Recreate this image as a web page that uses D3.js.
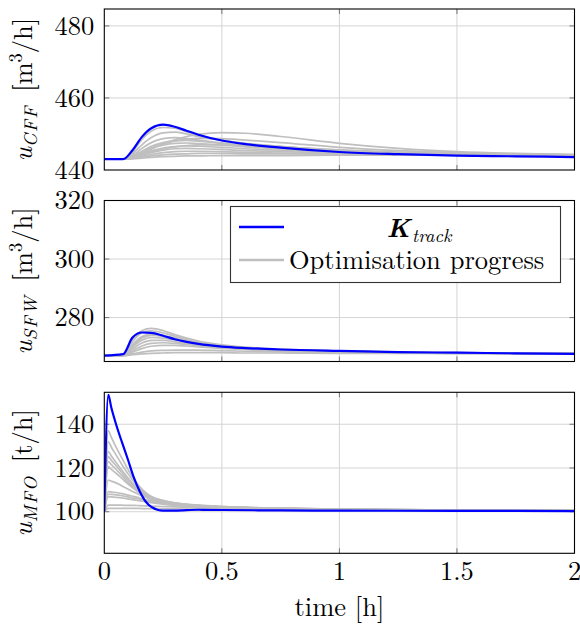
<!DOCTYPE html>
<html><head><meta charset="utf-8">
<script src="https://cdn.jsdelivr.net/npm/d3@7"></script>
<style>body{margin:0;background:#fff}svg{display:block}</style>
</head><body><svg id="c" width="580" height="628"></svg>
<script>
// ---------- DATA ----------
const timeA = [0, 0.08, 0.12, 0.16, 0.2, 0.25, 0.3, 0.35, 0.4, 0.5, 0.6, 0.75, 1.0, 1.25, 1.5, 1.75, 2.0];
const cffTrack = [443, 443, 445.5, 449.2, 451.6, 452.6, 452.0, 450.9, 449.8, 448.2, 447.2, 446.2, 445.0, 444.4, 444.0, 443.8, 443.6];
const cffProgress = [
 [443,443,443.5,444.5,445.8,447.2,448.4,449.3,449.9,450.4,450.2,449.3,447.4,446.0,445.1,444.6,444.3],
 [443,443,445,448.5,450.8,451.8,451.6,450.6,449.6,448.3,447.4,446.6,445.5,444.8,444.3,444.0,443.8],
 [443,443,444.5,447,449,450.3,450.5,450,449.3,448.2,447.3,446.5,445.4,444.7,444.3,444.0,443.8],
 [443,443,444,446,447.6,448.7,449,448.8,448.3,447.5,446.8,446.1,445.1,444.6,444.2,444.0,443.9],
 [443,443,443.8,445.2,446.6,447.6,448.1,448.2,448,447.4,446.8,446.2,445.3,444.7,444.3,444.1,443.9],
 [443,443,443.6,444.8,446,446.9,447.4,447.5,447.3,446.9,446.4,445.9,445.1,444.6,444.3,444.1,444.0],
 [443,443,443.5,444.4,445.3,446.1,446.5,446.7,446.6,446.3,445.9,445.5,444.9,444.5,444.3,444.1,444.0],
 [443,443,443.4,444.1,444.8,445.5,445.9,446,445.9,445.7,445.4,445.1,444.7,444.4,444.2,444.1,444.0],
 [443,443,443.3,443.8,444.3,444.8,445.1,445.2,445.2,445.1,444.9,444.7,444.5,444.3,444.2,444.1,444.1],
 [443,443,443.2,443.5,443.9,444.2,444.4,444.5,444.6,444.6,444.5,444.5,444.4,444.3,444.2,444.2,444.2],
 [443,443,443.1,443.3,443.5,443.7,443.8,443.9,443.9,444,444,444,444.1,444.1,444.1,444.1,444.1],
 [443,443,443.6,444.8,446.1,447.3,448.1,448.6,448.8,448.7,448.3,447.6,446.3,445.4,444.8,444.5,444.3],
 [443,443,443.4,444.2,445.0,445.8,446.4,446.8,447,447,446.8,446.4,445.6,445,444.6,444.4,444.2]
];
const sfwTrack = [267, 267.5, 273.2, 274.9, 274.8, 273.8, 272.6, 271.7, 271.0, 270.1, 269.6, 269.1, 268.6, 268.2, 268.0, 267.8, 267.6];
const sfwProgress = [
 [267,267.4,272.5,275.5,276.3,275.6,274.2,273,272,270.7,269.9,269.2,268.6,268.2,268,267.8,267.7],
 [267,267.3,271.8,274.8,275.5,274.8,273.6,272.5,271.6,270.4,269.7,269.1,268.5,268.2,268,267.8,267.7],
 [267,267.2,270.8,273.5,274.3,273.9,273,272.1,271.3,270.3,269.6,269,268.5,268.2,267.9,267.8,267.7],
 [267,267.2,270,272.3,273.2,273,272.4,271.7,271,270.1,269.5,269,268.5,268.2,267.9,267.8,267.7],
 [267,267.1,269.3,271.3,272.2,272.2,271.8,271.2,270.7,269.9,269.4,268.9,268.4,268.1,267.9,267.8,267.7],
 [267,267.1,268.7,270.3,271.2,271.4,271.2,270.8,270.4,269.7,269.2,268.8,268.4,268.1,267.9,267.8,267.7],
 [267,267.1,268.2,269.4,270.2,270.5,270.5,270.3,270,269.5,269.1,268.7,268.3,268.1,267.9,267.8,267.7],
 [267,267,267.6,268.2,268.6,268.8,268.9,268.9,268.9,268.7,268.5,268.3,268.1,267.9,267.8,267.7,267.7],
 [267,267,267.3,267.6,267.8,267.9,268,268,268,268,267.9,267.9,267.8,267.8,267.7,267.7,267.7],
 [267,267.2,270.4,273,273.9,273.6,272.8,271.9,271.2,270.2,269.5,269,268.5,268.2,267.9,267.8,267.7]
];
const timeB = [0, 0.017, 0.03, 0.05, 0.075, 0.1, 0.125, 0.15, 0.175, 0.2, 0.25, 0.3, 0.4, 0.5, 0.75, 1.0, 1.5, 2.0];
const mfoTrack = [100, 153.4, 147.5, 140, 131.8, 124, 115.8, 109.5, 104.8, 102.2, 100.5, 100.5, 100.9, 100.8, 100.6, 100.5, 100.4, 100.3];
const mfoProgress = [
 [100,137,134,129.5,124.5,119.5,115,111.5,108.8,107,105.2,104.1,103,102.4,101.6,101.2,100.8,100.6],
 [100,132,129.5,126,121.5,117.5,113.8,110.8,108.5,106.8,105,104,102.9,102.3,101.6,101.2,100.8,100.6],
 [100,127.5,125.5,122.5,119,115.5,112.5,110,108,106.5,104.9,103.9,102.8,102.3,101.5,101.2,100.8,100.6],
 [100,125.2,123.5,121,117.8,114.6,111.8,109.5,107.8,106.3,104.8,103.8,102.8,102.2,101.5,101.1,100.8,100.6],
 [100,122.9,121.5,119.3,116.5,113.6,111.2,109.1,107.5,106.1,104.6,103.7,102.7,102.2,101.5,101.1,100.8,100.6],
 [100,120.6,119.4,117.6,115.2,112.8,110.6,108.7,107.2,105.9,104.5,103.6,102.6,102.1,101.4,101.1,100.7,100.6],
 [100,114.5,114,113.2,111.8,110.4,109,107.8,106.7,105.6,104.3,103.4,102.5,102,101.4,101.1,100.7,100.6],
 [100,109.2,109,108.8,108.3,107.6,107,106.3,105.6,105,104,103.3,102.4,101.9,101.3,101,100.7,100.6],
 [100,108,107.9,107.7,107.3,106.8,106.2,105.7,105.1,104.6,103.8,103.1,102.3,101.8,101.3,101,100.7,100.6],
 [100,106.9,106.8,106.6,106.3,105.9,105.4,105,104.6,104.2,103.5,102.9,102.2,101.7,101.2,101,100.7,100.6],
 [100,103,103,103,103,102.9,102.9,102.8,102.7,102.6,102.4,102.2,101.9,101.6,101.2,101,100.7,100.6],
 [100,101.5,101.5,101.5,101.5,101.5,101.5,101.5,101.4,101.4,101.4,101.3,101.2,101.1,100.9,100.8,100.7,100.6]
];
const xTicks = [0, 0.5, 1, 1.5, 2];
const xTickLabels = ["0", "0.5", "1", "1.5", "2"];
const cffTicks = [440, 460, 480];
const sfwTicks = [280, 300, 320];
const mfoTicks = [100, 120, 140];
const legendLabels = ["K", "Optimisation progress"];

// ---------- LAYOUT ----------
const FF = '"Latin Modern Roman", "Liberation Serif"';
const svg = d3.select("#c");
const L = 104.3, R = 574.5;
const x = d3.scaleLinear().domain([0, 2]).range([L, R]);
const panels = [
  {top: 9, bottom: 170, domain: [440, 484.7], ticks: cffTicks, t: timeA, track: cffTrack, prog: cffProgress, sub: "CFF", unit: "m3"},
  {top: 200.5, bottom: 361.5, domain: [265, 320], ticks: sfwTicks, t: timeA, track: sfwTrack, prog: sfwProgress, sub: "SFW", unit: "m3"},
  {top: 392.3, bottom: 553.3, domain: [81, 154.6], ticks: mfoTicks, t: timeB, track: mfoTrack, prog: mfoProgress, sub: "MFO", unit: "t"}
];
const FS = 26.5, SS = 18.5;
function txt(sel) { return sel.append("text").style("font-family", FF); }
panels.forEach((p, i) => {
  const y = d3.scaleLinear().domain(p.domain).range([p.bottom, p.top]);
  const g = svg.append("g");
  const cid = "clip" + i;
  svg.append("clipPath").attr("id", cid).append("rect")
    .attr("x", L).attr("y", p.top).attr("width", R - L).attr("height", p.bottom - p.top);
  const inner = p.ticks.filter(v => v > p.domain[0] && v < p.domain[1]);
  g.selectAll(".gx").data(xTicks.slice(1, -1)).join("line")
    .attr("x1", d => x(d)).attr("x2", d => x(d)).attr("y1", p.top).attr("y2", p.bottom)
    .attr("stroke", "#d4d4d4").attr("stroke-width", 1);
  g.selectAll(".gy").data(inner).join("line")
    .attr("x1", L).attr("x2", R).attr("y1", d => y(d)).attr("y2", d => y(d))
    .attr("stroke", "#d4d4d4").attr("stroke-width", 1);
  g.selectAll(".tx").data(xTicks.slice(1, -1)).join("path")
    .attr("d", d => `M${x(d)},${p.bottom}v-5M${x(d)},${p.top}v5`)
    .attr("stroke", "#777").attr("stroke-width", 1);
  g.selectAll(".ty").data(inner).join("path")
    .attr("d", d => `M${L},${y(d)}h5M${R},${y(d)}h-5`)
    .attr("stroke", "#777").attr("stroke-width", 1);
  const line = d3.line().x((d, k) => x(p.t[k])).y(d => y(d)).curve(d3.curveMonotoneX);
  const lg = g.append("g").attr("clip-path", `url(#${cid})`);
  lg.selectAll(".pg").data(p.prog).join("path")
    .attr("d", line).attr("fill", "none").attr("stroke", "#bfbfbf").attr("stroke-width", 1.7);
  lg.append("path").attr("d", line(p.track)).attr("fill", "none")
    .attr("stroke", "#0000ff").attr("stroke-width", 2.2);
  g.append("rect").attr("x", L).attr("y", p.top).attr("width", R - L).attr("height", p.bottom - p.top)
    .attr("fill", "none").attr("stroke", "#000").attr("stroke-width", 1.1);
  p.ticks.forEach(v => {
    txt(g).attr("x", L - 10).attr("y", y(v)).attr("dy", "0.33em")
      .attr("text-anchor", "end").attr("font-size", FS).text(v);
  });
  const yl = txt(g).attr("text-anchor", "middle").attr("font-size", FS)
    .attr("transform", `translate(32,${(p.top + p.bottom) / 2}) rotate(-90)`);
  yl.append("tspan").attr("font-style", "italic").text("u");
  yl.append("tspan").attr("font-style", "italic").attr("font-size", SS).attr("dy", 5).attr("letter-spacing", 1.5).text(p.sub);
  if (p.unit === "m3") {
    yl.append("tspan").attr("dy", -5).text("\u2002[m");
    yl.append("tspan").attr("font-size", SS).attr("dy", -10).text("3");
    yl.append("tspan").attr("dy", 10).text("/h]");
  } else {
    yl.append("tspan").attr("dy", -5).text("\u2002[t/h]");
  }
  if (i === 2) {
    xTicks.forEach((d, k) => {
      txt(svg).attr("x", x(d)).attr("y", p.bottom + 27).attr("text-anchor", "middle")
        .attr("font-size", FS).text(xTickLabels[k]);
    });
    txt(svg).attr("x", (L + R) / 2).attr("y", 616).attr("text-anchor", "middle")
      .attr("font-size", FS).text("time [h]");
  }
  if (i === 1) {
    const lgd = svg.append("g");
    lgd.append("rect").attr("x", 230.5).attr("y", 206.5).attr("width", 330).attr("height", 76)
      .attr("fill", "#fff").attr("stroke", "#333").attr("stroke-width", 1.1);
    lgd.append("line").attr("x1", 239).attr("x2", 284).attr("y1", 227).attr("y2", 227)
      .attr("stroke", "#0000ff").attr("stroke-width", 2.6);
    lgd.append("line").attr("x1", 239).attr("x2", 284).attr("y1", 260).attr("y2", 260)
      .attr("stroke", "#bfbfbf").attr("stroke-width", 2.6);
    const t1 = txt(lgd).attr("x", 419).attr("y", 237).attr("text-anchor", "middle").attr("font-size", FS);
    t1.append("tspan").attr("font-weight", "bold").attr("font-style", "italic").text(legendLabels[0]);
    t1.append("tspan").attr("font-style", "italic").attr("font-size", SS).attr("dx", 2).attr("dy", 5).text("track");
    txt(lgd).attr("x", 289).attr("y", 269).attr("font-size", FS).text(legendLabels[1]);
  }
});
</script></body></html>
